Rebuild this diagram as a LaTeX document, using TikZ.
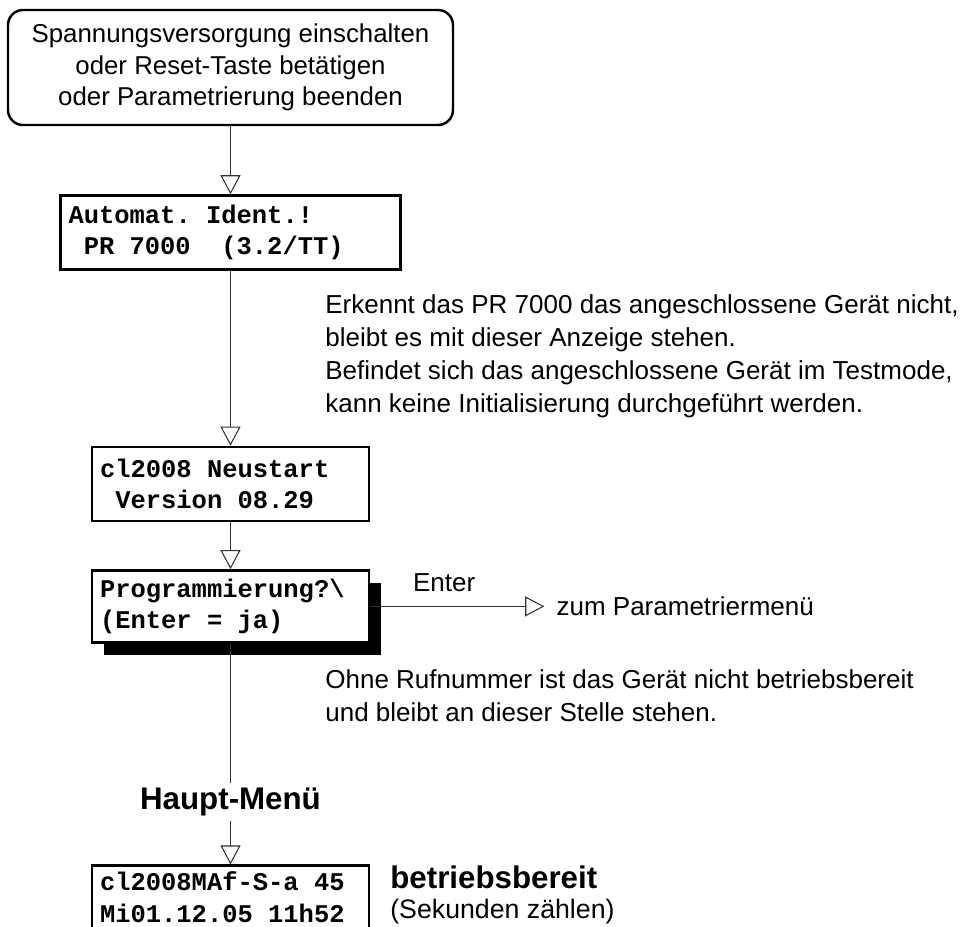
\documentclass[tikz,border=0pt]{standalone}
\usepackage{fontspec}
\setmainfont{Liberation Sans}
\setmonofont{Liberation Mono}
\usepackage{tikz}
\usetikzlibrary{arrows.meta, positioning, shadows}

% one fixed-width blank in the display texts
\newcommand{\ms}{\hspace*{0.6em}}

\begin{document}
\begin{tikzpicture}[
    node distance=0.5cm,
    start/.style={rectangle, draw, rounded corners=0.3cm, line width=1.4pt, minimum width=8.9cm, minimum height=2.3cm, align=center, font=\fontsize{14.7}{18.1}\selectfont},
    display/.style={rectangle, draw, fill=white, line width=1.4pt, inner xsep=0.16cm, align=left, font=\fontsize{14.5}{18.1}\selectfont\ttfamily\bfseries},
    note/.style={align=left, inner sep=0pt, font=\fontsize{14.8}{18.8}\selectfont},
    link/.style={line width=0.6pt, black!80},
    arrow/.style={-{Triangle[open, length=0.38cm, width=0.4cm]}, line width=0.6pt, black!80},
]
    \useasboundingbox (0,0) rectangle (19.24,-18.54);

    % Start and display boxes
    \node[start] (start) at (4.61,-1.35) {Spannungsversorgung einschalten\\oder Reset-Taste betätigen\\oder Parametrierung beenden};
    \node[display, text width=6.48cm, minimum height=1.48cm, below=1.36cm of start] (ident) {Automat.\ms Ident.!\\\ms PR\ms 7000\ms\ms(3.2/TT)};
    \node[display, text width=5.22cm, minimum height=1.48cm, below=3.5cm of ident] (neustart) {cl2008\ms Neustart\\\ms Version\ms 08.29};
    \node[display, text width=5.22cm, minimum height=1.44cm, below=0.94cm of neustart,
          drop shadow={shadow xshift=0.24cm, shadow yshift=-0.26cm, fill=black, opacity=1}] (prog) {Programmierung?\textbackslash\\(Enter\ms=\ms ja)};
    \node[font=\fontsize{17.8}{20}\selectfont\bfseries, inner sep=0.1cm, below=2.78cm of prog] (haupt) {Haupt-Menü};
    \node[display, text width=5.22cm, inner ysep=0.12cm, below=0.86cm of haupt] (status) {cl2008MAf-S-a\ms 45\\Mi01.12.05\ms 11h52\rule[-0.5cm]{0pt}{0.5cm}};

    % Side notes
    \node[note, inner xsep=0.24cm, right=3.48cm of prog] (param) {zum Parametriermenü};
    \node[note, anchor=north west] (hint1) at (6.5,-5.88) {Erkennt das PR 7000 das angeschlossene Gerät nicht,\\bleibt es mit dieser Anzeige stehen.\\Befindet sich das angeschlossene Gerät im Testmode,\\kann keine Initialisierung durchgeführt werden.};
    \node[note, anchor=north west] (hint2) at (6.5,-13.38) {Ohne Rufnummer ist das Gerät nicht betriebsbereit\\und bleibt an dieser Stelle stehen.};
    \node[note, anchor=north west, font=\fontsize{15.2}{17.6}\selectfont] (ready) at (7.8,-17.3) {{\fontsize{17.8}{20}\selectfont\bfseries betriebsbereit}\\(Sekunden zählen)};

    % Arrows
    \draw[arrow] (start) -- (ident);
    \draw[arrow] (ident) -- (neustart);
    \draw[arrow] (neustart) -- (prog);
    \draw[arrow] (prog.east) -- (param.west) node[pos=0.425, above=0.17cm, black, font=\fontsize{14.8}{18.8}\selectfont] {Enter};
    \draw[link] (prog) -- (haupt);
    \draw[arrow] (haupt) -- (status);
\end{tikzpicture}
\end{document}
